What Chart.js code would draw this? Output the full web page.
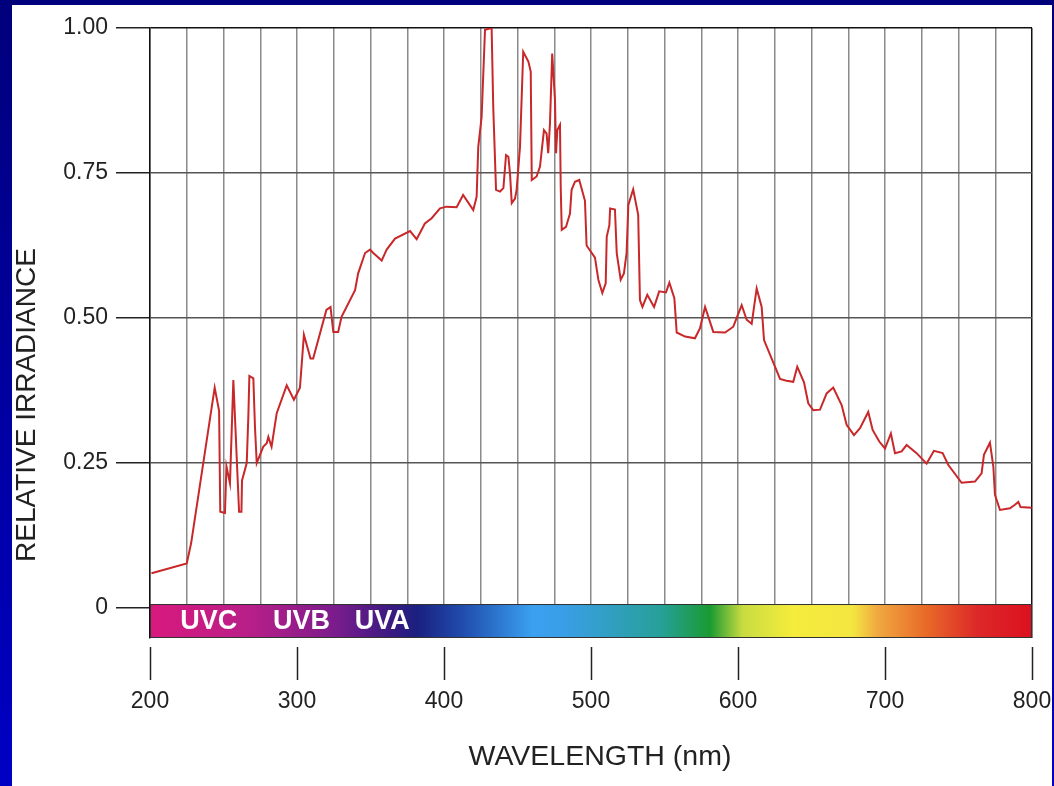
<!DOCTYPE html>
<html>
<head>
<meta charset="utf-8">
<script src="https://cdn.jsdelivr.net/npm/chart.js@4.4.1/dist/chart.umd.min.js"></script>
<style>
    html, body { margin: 0; padding: 0; }
    body {
        width: 1054px;
        height: 786px;
        overflow: hidden;
        background: linear-gradient(to bottom, #00007c, #0000c4);
        position: relative;
    }
    #chart {
        position: absolute;
        left: 12px;
        top: 5px;
        background: #fff;
    }
</style>
</head>
<body>
<canvas id="chart" width="1040" height="781"></canvas>
<script>
// wavelength (nm) and relative irradiance
const wavelengths = [
    201, 225, 228, 244, 247, 247.8, 251, 252, 254.4, 256.7, 260.6, 262.2, 262.6, 265.8, 266.9, 267.6,
    270.3, 271.4, 272.6, 277, 279.4, 280.5, 282.7, 286.2, 293, 297.9, 302, 304.7, 309.2, 311, 320,
    322.8, 324.7, 328, 330.3, 339.5, 341.6, 346.3, 349.7, 351.9, 357.6, 359.9, 361, 366.7, 376.9,
    381.4, 387, 391.6, 397.3, 401.8, 408.6, 413, 419.9, 422.2, 423.3, 425.6, 427.9, 432.4, 433.5,
    435.4, 438.1, 440.4, 442.2, 443.8, 444.9, 446.1, 448.3, 449.4, 451.7, 453.9, 457.4, 459, 459.7,
    463, 465.3, 468, 469.8, 470.9, 472.1, 473.6, 475.5, 476.2, 477.1, 478.9, 479.4, 480.1, 483,
    485.7, 486.8, 489.1, 492, 495.9, 497, 502.7, 505, 507.7, 510, 510.7, 512.5, 513, 516.3, 517.5,
    520.2, 522.4, 524.2, 525.4, 528.7, 532.1, 533.3, 535, 538.3, 542.9, 546.4, 551, 553.3, 556.7,
    558.3, 564, 570.7, 574.1, 577.6, 583.2, 591.2, 596.8, 602.5, 605.9, 609.3, 612.7, 616.1, 617.7,
    628.6, 633, 637.6, 640.3, 644.9, 647.8, 651.2, 655.8, 660.3, 664.8, 670.5, 673.9, 678.9, 683,
    688.6, 691.6, 696.1, 700, 704, 706.8, 711.3, 714.7, 721.5, 728.3, 733.3, 739.2, 743, 752.1,
    761.2, 765.7, 767.3, 771.4, 773.7, 774.8, 778.2, 785, 788.4, 790.7, 792.2, 799.8
];
const irradiance = [
    0.060, 0.077, 0.112, 0.380, 0.340, 0.166, 0.164, 0.244, 0.215, 0.393, 0.166, 0.166, 0.220, 0.250, 0.330, 0.400,
    0.396, 0.313, 0.250, 0.278, 0.284, 0.295, 0.278, 0.336, 0.384, 0.359, 0.380, 0.471, 0.430, 0.430, 0.514,
    0.519, 0.476, 0.476, 0.502, 0.548, 0.577, 0.612, 0.618, 0.612, 0.599, 0.612, 0.618, 0.637, 0.650,
    0.636, 0.663, 0.672, 0.689, 0.692, 0.691, 0.712, 0.686, 0.709, 0.795, 0.847, 0.997, 1.000, 0.864,
    0.721, 0.718, 0.724, 0.781, 0.778, 0.749, 0.698, 0.706, 0.721, 0.795, 0.959, 0.942, 0.925, 0.738,
    0.744, 0.761, 0.824, 0.818, 0.784, 0.836, 0.956, 0.876, 0.784, 0.824, 0.833, 0.726, 0.652, 0.657,
    0.680, 0.721, 0.735, 0.738, 0.702, 0.625, 0.604, 0.566, 0.543, 0.560, 0.640, 0.660, 0.689, 0.687, 0.612,
    0.566, 0.577, 0.612, 0.695, 0.722, 0.678, 0.531, 0.519, 0.540, 0.519, 0.546, 0.544, 0.561, 0.534,
    0.475, 0.468, 0.465, 0.482, 0.519, 0.476, 0.475, 0.485, 0.522, 0.497, 0.490, 0.551, 0.519, 0.462,
    0.395, 0.392, 0.390, 0.416, 0.389, 0.353, 0.341, 0.342, 0.370, 0.380, 0.350, 0.316, 0.298, 0.310,
    0.338, 0.307, 0.287, 0.275, 0.301, 0.267, 0.270, 0.281, 0.267, 0.249, 0.271, 0.267, 0.247, 0.216,
    0.218, 0.232, 0.264, 0.285, 0.244, 0.195, 0.169, 0.172, 0.178, 0.183, 0.174, 0.173
];

const yTickValues = [0, 0.25, 0.5, 0.75, 1.0];
const xLabelValues = [200, 300, 400, 500, 600, 700, 800];

// colour band under the plot
const spectrumStops = [200, 268, 325, 363, 382, 416, 460, 480, 547, 581, 603, 637, 678, 695, 728, 763, 800];
const spectrumColors = [
    '#d8197e', '#b81f88', '#7c1c8c', '#3c1a82', '#1a2080', '#2152b2', '#3aa0f0', '#3a9ee8',
    '#27a09a', '#1a9a32', '#c8dc40', '#f5ec3c', '#f3e640', '#f0a840', '#e86a28', '#dc2828', '#dc1020'
];
const bandLabels = ['UVC', 'UVB', 'UVA'];
const bandCenters = [240, 303, 358];

const xTitle = 'WAVELENGTH (nm)';
const yTitle = 'RELATIVE IRRADIANCE';

const FONT = '"Liberation Sans", Arial, Helvetica, sans-serif';

const spectrumPlugin = {
    id: 'spectrum',
    beforeDatasetsDraw(chart) {
        const { ctx, chartArea, scales } = chart;
        const x = scales.x, y = scales.y;
        const left = x.getPixelForValue(200);
        const right = x.getPixelForValue(800);
        const top = y.getPixelForValue(0) - 4;
        const bottom = chartArea.bottom;
        const g = ctx.createLinearGradient(left, 0, right, 0);
        spectrumStops.forEach((nm, i) => g.addColorStop((nm - 200) / 600, spectrumColors[i]));
        ctx.save();
        ctx.fillStyle = g;
        ctx.fillRect(left, top, right - left, bottom - top);
        ctx.strokeStyle = '#333';
        ctx.lineWidth = 1;
        ctx.strokeRect(left + 0.5, top + 0.5, right - left - 1, bottom - top - 1);
        ctx.fillStyle = '#fff';
        ctx.font = 'bold 27px ' + FONT;
        ctx.textAlign = 'center';
        ctx.textBaseline = 'middle';
        bandLabels.forEach((t, i) => {
            ctx.fillText(t, x.getPixelForValue(bandCenters[i]), (top + bottom) / 2 + 1);
        });
        ctx.restore();
    },
    afterDraw(chart) {
        const { ctx, chartArea, scales } = chart;
        ctx.save();
        // detached tick marks below the colour band
        ctx.strokeStyle = '#222';
        ctx.lineWidth = 1.5;
        xLabelValues.forEach(v => {
            const px = Math.round(scales.x.getPixelForValue(v)) + 0.5;
            ctx.beginPath();
            ctx.moveTo(px, chartArea.bottom + 9);
            ctx.lineTo(px, chartArea.bottom + 42);
            ctx.stroke();
        });
        // axis titles
        ctx.fillStyle = '#222';
        ctx.textAlign = 'center';
        ctx.textBaseline = 'middle';
        ctx.font = '28.5px ' + FONT;
        ctx.fillText(xTitle, 588, 752);
        ctx.translate(15, 400);
        ctx.rotate(-Math.PI / 2);
        ctx.font = '28px ' + FONT;
        ctx.fillText(yTitle, 0, 0);
        ctx.restore();
    }
};

new Chart(document.getElementById('chart'), {
    type: 'line',
    data: {
        datasets: [{
            data: wavelengths.map((w, i) => ({ x: w, y: irradiance[i] })),
            borderColor: '#c8282a',
            borderWidth: 2,
            pointRadius: 0,
            tension: 0,
            fill: false
        }]
    },
    options: {
        responsive: false,
        devicePixelRatio: 1,
        animation: false,
        layout: { padding: { left: 0, right: 20, top: 23, bottom: 0 } },
        plugins: {
            legend: { display: false },
            tooltip: { enabled: false }
        },
        scales: {
            x: {
                type: 'linear',
                min: 200,
                max: 800,
                afterFit(scale) {
                    scale.height = 148;
                    scale.paddingLeft = 0;
                    scale.paddingRight = 0;
                },
                border: { display: false },
                grid: {
                    drawTicks: false,
                    lineWidth: 1.5,
                    color: ctx => ctx.tick && ctx.tick.value === 800 ? '#111' : '#8a8a8a'
                },
                ticks: {
                    stepSize: 25,
                    autoSkip: false,
                    maxRotation: 0,
                    padding: 50,
                    color: '#222',
                    font: { family: FONT, size: 23 },
                    callback: v => v % 100 === 0 ? String(v) : ''
                }
            },
            y: {
                min: -0.0517,
                max: 1.0,
                afterFit(scale) { scale.width = 138; },
                afterBuildTicks(scale) {
                    scale.ticks = yTickValues.map(v => ({ value: v }));
                },
                border: { display: true, color: '#111', width: 1.5 },
                grid: {
                    lineWidth: 1.5,
                    tickLength: 34,
                    tickColor: '#222',
                    tickWidth: 1.5,
                    color: ctx => ctx.tick && ctx.tick.value === 1 ? '#111' : '#555'
                },
                ticks: {
                    padding: 8,
                    color: '#222',
                    font: { family: FONT, size: 23 },
                    callback: v => v === 0 ? '0' : v.toFixed(2)
                }
            }
        }
    },
    plugins: [spectrumPlugin]
});
</script>
</body>
</html>
